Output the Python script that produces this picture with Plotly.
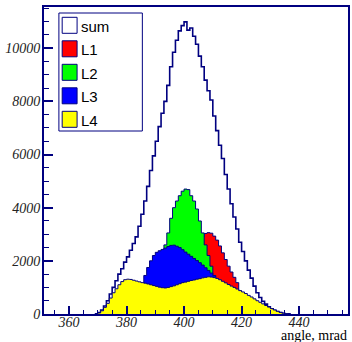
import plotly.graph_objects as go

# ---- data: 1-mrad bins, lower edges 369 ... 436 ----
bin_lo = [369, 370, 371, 372, 373, 374, 375, 376, 377, 378, 379, 380, 381, 382, 383, 384, 385,
          386, 387, 388, 389, 390, 391, 392, 393, 394, 395, 396, 397, 398, 399, 400, 401, 402,
          403, 404, 405, 406, 407, 408, 409, 410, 411, 412, 413, 414, 415, 416, 417, 418, 419,
          420, 421, 422, 423, 424, 425, 426, 427, 428, 429, 430, 431, 432, 433, 434, 435, 436]
bin_width = 1

h_sum = [0, 50, 150, 300, 500, 750, 1000, 1250, 1500, 1700, 1950, 2150, 2400, 2650, 2900, 3300,
         3750, 4250, 4800, 5400, 5950, 6500, 7050, 7550, 8000, 8600, 9300, 9850, 10300, 10650,
         10850, 10990, 10680, 10760, 10450, 10150, 9700, 9300, 8800, 8400, 8050, 7450, 6900,
         6350, 5850, 5250, 4700, 4150, 3650, 3200, 2700, 2350, 2000, 1650, 1350, 1050, 800, 620,
         480, 370, 270, 200, 140, 90, 55, 30, 10, 0]
h_L1 = [0] * 21 + [100, 150, 200, 300, 400, 500, 800, 1100, 1400, 1700, 2000, 2250, 2450, 2600,
                   2720, 2820, 2900, 3030, 3060, 3040, 2930, 2780, 2560, 2300, 2050, 1800, 1580,
                   1380, 1180, 870, 700, 550, 400, 300, 200, 100] + [0] * 11
h_L2 = [0] * 11 + [100, 150, 200, 300, 400, 500, 650, 800, 1000, 1200, 1500, 1800, 2200, 2600,
                   3050, 3600, 4000, 4250, 4450, 4620, 4700, 4680, 4450, 4250, 3950, 3500, 3050,
                   2600, 2200, 1800, 1450, 1150, 900, 650, 450, 300, 200, 100, 50] + [0] * 18
h_L3 = [0, 0, 0, 10, 20, 40, 60, 90, 120, 160, 200, 250, 350, 500, 700, 900, 1100, 1450, 1750,
        2000, 2200, 2320, 2380, 2430, 2480, 2540, 2580, 2590, 2550, 2500, 2420, 2330, 2250, 2170,
        2090, 2010, 1930, 1840, 1740, 1640, 1540, 1440, 1330, 1200, 1050, 900, 750, 600, 450,
        300, 200, 100, 50, 20] + [0] * 14
h_L4 = [0, 40, 120, 250, 400, 600, 800, 950, 1100, 1220, 1290, 1310, 1300, 1270, 1240, 1210,
        1180, 1160, 1130, 1100, 1070, 1040, 1010, 990, 980, 1000, 1030, 1060, 1100, 1140, 1180,
        1200, 1230, 1260, 1280, 1310, 1330, 1360, 1380, 1400, 1390, 1370, 1340, 1290, 1230, 1170,
        1110, 1050, 1000, 940, 880, 830, 770, 700, 640, 570, 500, 440, 380, 320, 260, 200, 150,
        100, 60, 30, 10, 0]

series_names = ["L1", "L2", "L3", "L4"]
series_values = [h_L1, h_L2, h_L3, h_L4]
series_colors = ["#ff0000", "#00ff00", "#0000ff", "#ffff00"]

x_range = [351.3, 457.0]
y_range = [0, 11550]
x_ticks = [360, 380, 400, 420, 440]
y_ticks = [0, 2000, 4000, 6000, 8000, 10000]
x_title = "angle, mrad"

for arr in [h_sum] + series_values:
    assert len(arr) == len(bin_lo), len(arr)

NAVY = "#000080"


def step_xy(values):
    xs = list(bin_lo) + [bin_lo[-1] + bin_width]
    ys = list(values) + [values[-1]]
    return xs, ys


fig = go.Figure()

xs, ys = step_xy(h_sum)
fig.add_trace(go.Scatter(x=xs, y=ys, mode="lines", line=dict(color=NAVY, width=1.6, shape="hv"),
                         showlegend=False, hoverinfo="skip"))
for name, vals, col in zip(series_names, series_values, series_colors):
    xs, ys = step_xy(vals)
    fig.add_trace(go.Scatter(x=xs, y=ys, mode="lines", fill="tozeroy", fillcolor=col,
                             line=dict(color=NAVY, width=1, shape="hv"), name=name,
                             showlegend=False, hoverinfo="skip"))

# ---- ROOT-style legend box (drawn in paper coordinates) ----
L, T, B = 44, 7, 314
PW, PH = 306, 307


def px(xp):
    return (xp - L) / PW


def py(yp):
    return (B - yp) / PH


legend_labels = ["sum"] + series_names
legend_fills = ["#ffffff"] + series_colors
fig.add_shape(type="rect", xref="paper", yref="paper", x0=px(59), x1=px(143), y0=py(131), y1=py(13),
              line=dict(color=NAVY, width=1), fillcolor="white", layer="above")
row_centers = [25.3, 48.8, 72.3, 95.8, 119.3]
for lab, col, yc in zip(legend_labels, legend_fills, row_centers):
    fig.add_shape(type="rect", xref="paper", yref="paper", x0=px(62.3), x1=px(77.3),
                  y0=py(yc + 8), y1=py(yc - 8), line=dict(color=NAVY, width=1), fillcolor=col,
                  layer="above")
    fig.add_annotation(xref="paper", yref="paper", x=px(79), y=py(yc + 0.8), text=lab,
                       showarrow=False, xanchor="left", yanchor="middle",
                       font=dict(family="Liberation Sans, Arial", size=15, color="black"))

fig.add_annotation(xref="paper", yref="paper", x=px(350), y=py(335.5), text=x_title,
                   showarrow=False, xanchor="right", yanchor="middle", borderpad=0,
                   font=dict(family="Liberation Serif, Times New Roman", size=14, color="black"))

tickfont = dict(family="Liberation Serif, Times New Roman", size=14, color="#222222", style="italic")

fig.update_xaxes(range=x_range, tickmode="array", tickvals=x_ticks, ticktext=[str(v) for v in x_ticks],
                 showgrid=False, zeroline=False, showline=True, linecolor=NAVY, linewidth=2,
                 mirror=True, ticks="inside", ticklen=8, tickwidth=1.5, tickcolor=NAVY,
                 ticklabelstandoff=-6,
                 minor=dict(ticks="inside", dtick=5, tick0=360, ticklen=4, tickwidth=1.2,
                            tickcolor=NAVY, showgrid=False),
                 tickfont=tickfont)
fig.update_yaxes(range=y_range, tickmode="array", tickvals=y_ticks, ticktext=[str(v) for v in y_ticks],
                 showgrid=False, zeroline=False, showline=True, linecolor=NAVY, linewidth=2,
                 mirror=True, ticks="inside", ticklen=9, tickwidth=1.5, tickcolor=NAVY,
                 ticklabelstandoff=-1,
                 minor=dict(ticks="inside", dtick=500, tick0=0, ticklen=5, tickwidth=1.2,
                            tickcolor=NAVY, showgrid=False),
                 tickfont=tickfont)

fig.update_layout(width=352, height=342, margin=dict(l=L, r=2, t=T, b=342 - B),
                  paper_bgcolor="white", plot_bgcolor="white", showlegend=False)

fig.write_html("out.html")
